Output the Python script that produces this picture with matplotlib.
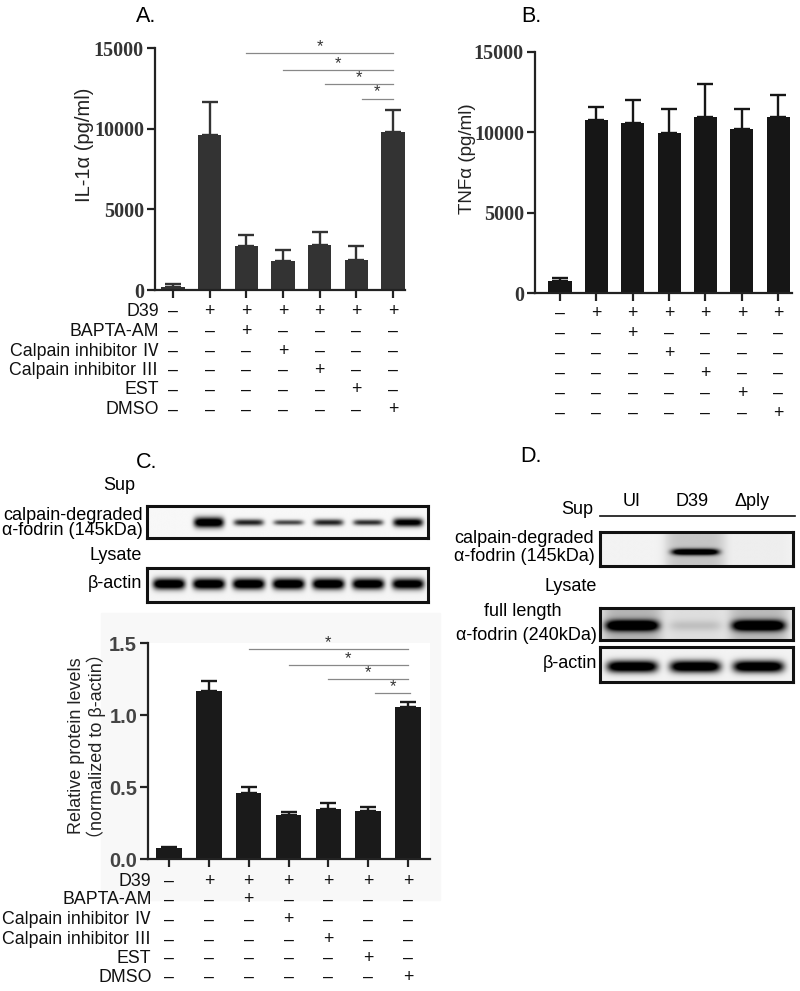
import matplotlib
matplotlib.use('Agg')
import matplotlib.pyplot as plt
import matplotlib.transforms as mtransforms
import numpy as np

plt.rcParams['font.family'] = ['Liberation Sans', 'Noto Sans CJK JP', 'DejaVu Sans']

W, H = 800, 991

# ---- data ----
il1a_mean = [200, 9600, 2700, 1820, 2790, 1860, 9810]
il1a_err = [150, 2070, 710, 660, 790, 890, 1350]
tnfa_mean = [765, 10760, 10590, 9930, 10925, 10200, 10925]
tnfa_err = [165, 790, 1410, 1510, 2065, 1220, 1405]
fodrin_mean = [0.076, 1.171, 0.4625, 0.308, 0.347, 0.335, 1.06]
fodrin_err = [0.012, 0.067, 0.038, 0.022, 0.042, 0.030, 0.034]

# significance brackets: (start bar, end bar, height)
sig_a = [(2, 6, 14690), (3, 6, 13650), (4.15, 6, 12785), (5.15, 6, 11870)]
sig_c = [(2, 6, 1.458), (3, 6, 1.349), (4, 6, 1.25), (5.18, 6.04, 1.153)]

treatments = ['D39', 'BAPTA-AM', 'Calpain inhibitor Ⅳ', 'Calpain inhibitor Ⅲ', 'EST', 'DMSO']
signs = ['-++++++',
         '--+----',
         '---+---',
         '----+--',
         '-----+-',
         '------+']

# western blot band darkness per lane
c_sup_dark = [0.0, 1.25, 0.85, 0.7, 0.85, 0.8, 1.1]
c_sup_h = [0.1, 0.16, 0.1, 0.08, 0.1, 0.09, 0.13]
c_actin_dark = [1.3, 1.3, 1.3, 1.3, 1.3, 1.25, 1.2]
d_lanes = ['UI', 'D39', 'Δply']
d_sup_dark = [0.0, 1.2, 0.0]
d_sup_haze = [0.0, 0.18, 0.02]
d_full_dark = [1.25, 0.12, 1.25]
d_full_haze = [0.22, 0.06, 0.2]
d_actin_dark = [1.3, 1.3, 1.3]

fig = plt.figure(figsize=(8, 9.91), dpi=100)


def prect(l, t, r, b):
    return [l / W, 1 - b / H, (r - l) / W, (b - t) / H]


def ftext(xp, yp, s, **kw):
    kw.setdefault('ha', 'center')
    kw.setdefault('va', 'center')
    return fig.text(xp / W, 1 - yp / H, s, **kw)


def bar_panel(rect, mean, err, color, xlim, ylim, yticks, ylabels, tick_font):
    ax = fig.add_axes(prect(*rect))
    x = np.arange(len(mean))
    ax.bar(x, mean, width=0.64, color=color, zorder=2)
    ax.errorbar(x, mean, yerr=[np.zeros(len(err)), err], fmt='none', ecolor=color,
                elinewidth=1.7, capsize=6, capthick=1.7, zorder=1)
    ax.set_xlim(*xlim)
    ax.set_ylim(*ylim)
    for s in ['top', 'right']:
        ax.spines[s].set_visible(False)
    for s in ['left', 'bottom']:
        ax.spines[s].set_linewidth(1.6)
        ax.spines[s].set_color('#222222')
    ax.set_xticks(x)
    ax.set_xticklabels([])
    ax.set_yticks(yticks)
    ax.set_yticklabels(ylabels, **tick_font)
    ax.tick_params(axis='both', direction='out', length=6, width=1.6, color='#222222', pad=2)
    return ax


def sig_lines(ax, sig, star_off):
    for x0, x1, y in sig:
        ax.plot([x0, x1], [y, y], color='#888888', lw=0.9, clip_on=False)
        ax.text((x0 + x1) / 2, y + star_off, '*', ha='center', va='center',
                fontsize=12, color='#333333', clip_on=False)


def sign_rows(ax, ys, label_x=None, fs=13):
    tr = mtransforms.blended_transform_factory(ax.transData, fig.transFigure)
    for r, row in enumerate(signs):
        y = 1 - ys[r] / H
        for i, s in enumerate(row):
            ax.text(i, y, '+' if s == '+' else '–', transform=tr, ha='center',
                    va='center', fontsize=fs, color='#111111')
        if label_x is not None:
            ftext(label_x, ys[r], treatments[r], ha='right', fontsize=fs, color='#111111')


def blot(rect, xlim, dark, bw, bh, yc, bg=0.96, haze=None):
    ax = fig.add_axes(prect(*rect))
    xs = np.linspace(xlim[0], xlim[1], 600)
    ys = np.linspace(0, 1, 90)
    X, Y = np.meshgrid(xs, ys)
    img = np.full(X.shape, bg)
    for i, d in enumerate(dark):
        if haze is not None:
            img -= haze[i] * np.exp(-((X - i) / 0.48) ** 6)
        h = bh[i] if np.ndim(bh) else bh
        prof = np.exp(-((X - i) / (bw / 2)) ** 6) * np.exp(-((Y - yc) / h) ** 2)
        img -= d * prof
    img = np.clip(img, 0, 1)
    ax.imshow(img, cmap='gray', vmin=0, vmax=1, extent=[xlim[0], xlim[1], 1, 0],
              aspect='auto', interpolation='bilinear')
    ax.set_xlim(*xlim)
    ax.set_ylim(1, 0)
    ax.set_xticks([])
    ax.set_yticks([])
    for s in ax.spines.values():
        s.set_linewidth(2.2)
        s.set_color('#111111')
    return ax


serif_bold = dict(family='Liberation Serif', fontweight='bold', fontsize=14.5, color='#333333')
sans_bold = dict(family='Liberation Sans', fontweight='bold', fontsize=14.5, color='#444444')

# ---- panel A ----
axA = bar_panel((155, 48.3, 405, 290), il1a_mean, il1a_err, '#333333',
                (-0.49, 6.33), (0, 15000), [0, 5000, 10000, 15000],
                ['0', '5000', '10000', '15000'], serif_bold)
sig_lines(axA, sig_a, 420)
sign_rows(axA, [311.7, 331.5, 351, 370.5, 390, 410], label_x=159, fs=12.8)
ftext(146, 16, 'A.', fontsize=15.5)
ftext(84, 145, 'IL-1α (pg/ml)', rotation=90, fontsize=14.5, color='#222222')

# ---- panel B ----
axB = bar_panel((535, 51.7, 792, 293.3), tnfa_mean, tnfa_err, '#161616',
                (-0.69, 6.38), (0, 15000), [0, 5000, 10000, 15000],
                ['0', '5000', '10000', '15000'], serif_bold)
sign_rows(axB, [313.5, 333.5, 353, 373, 393, 413], fs=12.8)
ftext(531, 16, 'B.', fontsize=15.5)
ftext(467, 159, 'TNFα (pg/ml)', rotation=90, fontsize=13.5, color='#222222')

# ---- panel C ----
fig.patches.append(plt.Rectangle((101 / W, 1 - 900 / H), 339 / W, 287 / H,
                                 transform=fig.transFigure, color='#f8f8f8', zorder=-10))
blot((146.7, 506, 428.3, 538.3), (-0.55, 6.52), c_sup_dark, 0.75, c_sup_h, 0.53, bg=0.97)
blot((146.7, 568.3, 428.3, 601.7), (-0.55, 6.52), c_actin_dark, 0.8, 0.16, 0.47, bg=0.96)
ftext(147, 462, 'C.', fontsize=15.5)
ftext(135, 485, 'Sup', ha='right', fontsize=13)
ftext(142.5, 515, 'calpain-degraded', ha='right', fontsize=13)
ftext(142.5, 530.5, 'α-fodrin (145kDa)', ha='right', fontsize=13)
ftext(142, 556, 'Lysate', ha='right', fontsize=13)
ftext(142, 584, 'β-actin', ha='right', fontsize=13)

axC = bar_panel((148.3, 643.3, 430, 859.3), fodrin_mean, fodrin_err, '#1a1a1a',
                (-0.52, 6.55), (0, 1.5), [0.0, 0.5, 1.0, 1.5],
                ['0.0', '0.5', '1.0', '1.5'], sans_bold)
sig_lines(axC, sig_c, 0.045)
sign_rows(axC, [881, 900, 920, 940, 958.5, 977], label_x=151.5, fs=12.8)
ftext(76.7, 746, 'Relative protein levels', rotation=90, fontsize=13, color='#222222')
ftext(96.5, 746, '（normalized to β-actin）', rotation=90, fontsize=13, color='#222222')

# ---- panel D ----
d_xlim = (-0.51, 2.56)
ftext(531, 457, 'D.', fontsize=15.5)
for i, name in enumerate(d_lanes):
    ftext(632 + 60 * i, 501.5, name, fontsize=13)
fig.add_artist(plt.Line2D([600 / W, 795 / W], [1 - 516 / H, 1 - 516 / H],
                          color='#111111', lw=1.2))
ftext(593, 510, 'Sup', ha='right', fontsize=13)
blot((600, 531.7, 793.3, 566), d_xlim, d_sup_dark, 0.75, 0.09, 0.6, bg=0.95, haze=d_sup_haze)
ftext(594, 538.5, 'calpain-degraded', ha='right', fontsize=13)
ftext(595, 556.5, 'α-fodrin (145kDa)', ha='right', fontsize=13)
ftext(597, 586.5, 'Lysate', ha='right', fontsize=13)
ftext(523, 611.5, 'full length', fontsize=13)
ftext(597, 635, 'α-fodrin (240kDa)', ha='right', fontsize=13)
blot((600, 608.3, 793.3, 640), d_xlim, d_full_dark, 0.84, 0.17, 0.55, bg=0.93, haze=d_full_haze)
ftext(597, 663, 'β-actin', ha='right', fontsize=13)
blot((600, 647.3, 793.3, 681.7), d_xlim, d_actin_dark, 0.8, 0.17, 0.56, bg=0.95)

fig.savefig('out.png', dpi=100)
